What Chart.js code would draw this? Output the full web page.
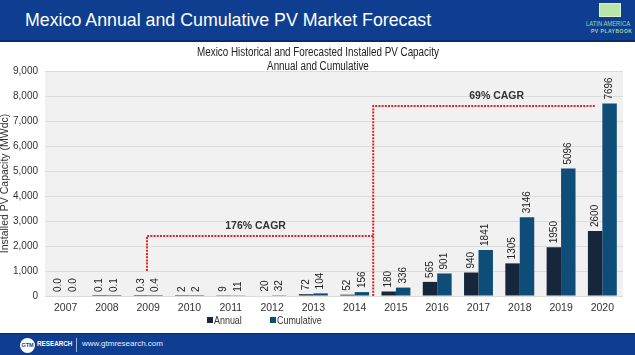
<!DOCTYPE html>
<html>
<head>
<meta charset="utf-8">
<script src="https://cdn.jsdelivr.net/npm/chart.js@4/dist/chart.umd.min.js"></script>
<style>
  html,body{margin:0;padding:0;background:#fff;}
  #wrap{position:relative;width:635px;height:355px;overflow:hidden;font-family:"Liberation Sans",Arial,sans-serif;}
  #chart{position:absolute;left:0;top:0;}
  #header{position:absolute;left:0;top:0;width:635px;height:40px;background:#0f3e91;border-bottom:2px solid #0a2c66;}
  #header .t{position:absolute;left:25px;top:10px;color:#fff;font-size:17.8px;white-space:nowrap;}
  #logo{position:absolute;left:586px;top:3px;width:50px;}
  #logo .book{width:22px;height:14px;margin:0 0 3px 13px;background:#b9e6a8;border:1px solid #d8f3cc;box-sizing:border-box;}
  #logo .a{color:#9fd8a0;font-size:7.5px;line-height:8px;white-space:nowrap;transform:scaleX(0.78);transform-origin:left;}
  #logo .b{color:#9fd8a0;font-size:5px;line-height:6px;letter-spacing:0.5px;font-weight:bold;white-space:nowrap;margin-left:5px;}
  #ctitle{position:absolute;left:0;width:635px;top:45px;text-align:center;font-size:12px;line-height:14px;color:#222;transform:scaleX(0.82);transform-origin:320px 0;}
  .leg{position:absolute;top:314px;font-size:10.5px;color:#333;white-space:nowrap;transform:scaleX(0.85);transform-origin:left;}
  .sq{position:absolute;top:317px;width:6px;height:6px;}
  #footer{position:absolute;left:0;top:333px;width:635px;height:22px;background:#0f3e91;border-top:1px solid #0a2c66;}
  #footer .c{position:absolute;left:20px;top:4px;width:15px;height:15px;border-radius:8px;background:#fff;color:#0f3e91;font-size:5.5px;font-weight:bold;line-height:15px;text-align:center;}
  #footer .r{position:absolute;left:37px;top:6px;color:#fff;font-size:7px;font-weight:bold;transform:scaleX(0.9);transform-origin:left;}
  #footer .sep{position:absolute;left:76px;top:4px;width:1px;height:14px;background:#9fb4dc;}
  #footer .u{position:absolute;left:82px;top:5px;color:#e6ecf8;font-size:8px;}
</style>
</head>
<body>
<div id="wrap">
  <canvas id="chart" width="635" height="355"></canvas>
  <div id="header"><div class="t">Mexico Annual and Cumulative PV Market Forecast</div>
    <div id="logo"><div class="book"></div><div class="a">LATIN AMERICA</div><div class="b">PV PLAYBOOK</div></div>
  </div>
  <div id="ctitle">Mexico Historical and Forecasted Installed PV Capacity<br>Annual and Cumulative</div>
  <div class="sq" style="left:207px;background:#16263b"></div><div class="leg" style="left:214px">Annual</div>
  <div class="sq" style="left:270px;background:#0e4d78"></div><div class="leg" style="left:277px">Cumulative</div>
  <div id="footer"><div class="c">GTM</div><div class="r">RESEARCH</div><div class="sep"></div><div class="u">www.gtmresearch.com</div></div>
</div>
<script>
const years = ['2007','2008','2009','2010','2011','2012','2013','2014','2015','2016','2017','2018','2019','2020'];
const annual = [0.0, 0.1, 0.3, 2, 9, 20, 72, 52, 180, 565, 940, 1305, 1950, 2600];
const cumulative = [0.0, 0.1, 0.4, 2, 11, 32, 104, 156, 336, 901, 1841, 3146, 5096, 7696];
const yTicks = [0, 1000, 2000, 3000, 4000, 5000, 6000, 7000, 8000, 9000];
// CAGR brackets: start category position, end category position, base value, bracket level
const cagrLabels = ['176% CAGR', '69% CAGR'];
const cagrStart = [1.97, 7.45];
const cagrEnd = [7.45, 12.83];
const cagrBase = [1000, 0];
const cagrLevel = [2400, 7600];
const cagrTextPos = [4.6, 10.44];

const fmt = v => v < 1 ? v.toFixed(1) : String(v);

const bgPlugin = {
  id: 'bg',
  beforeDraw(chart) {
    const {ctx, chartArea: a} = chart;
    ctx.save();
    ctx.fillStyle = '#f1f1f1';
    ctx.fillRect(a.left, a.top, a.right - a.left, a.bottom - a.top);
    ctx.restore();
  }
};

const labelPlugin = {
  id: 'vlabels',
  afterDatasetsDraw(chart) {
    const ctx = chart.ctx;
    ctx.save();
    ctx.font = '10px "Liberation Sans", Arial, sans-serif';
    ctx.fillStyle = '#222';
    ctx.textAlign = 'left';
    ctx.textBaseline = 'middle';
    chart.data.datasets.forEach((ds, di) => {
      chart.getDatasetMeta(di).data.forEach((bar, i) => {
        ctx.save();
        ctx.translate(bar.x, bar.y - 4);
        ctx.rotate(-Math.PI / 2);
        ctx.fillText(fmt(ds.data[i]), 0, 0);
        ctx.restore();
      });
    });
    ctx.restore();
  }
};

const cagrPlugin = {
  id: 'cagr',
  afterDatasetsDraw(chart) {
    const ctx = chart.ctx;
    const x = chart.scales.x, y = chart.scales.y;
    ctx.save();
    ctx.strokeStyle = '#e0242c';
    ctx.lineWidth = 2;
    ctx.setLineDash([2, 1.2]);
    for (let k = 0; k < cagrLabels.length; k++) {
      const x0 = x.getPixelForValue(cagrStart[k]);
      const x1 = x.getPixelForValue(cagrEnd[k]);
      const yb = y.getPixelForValue(cagrBase[k]);
      const yl = y.getPixelForValue(cagrLevel[k]);
      ctx.beginPath();
      ctx.moveTo(x0, yb);
      ctx.lineTo(x0, yl);
      ctx.lineTo(x1, yl);
      ctx.stroke();
      ctx.save();
      ctx.setLineDash([]);
      ctx.font = 'bold 10.5px "Liberation Sans", Arial, sans-serif';
      ctx.fillStyle = '#333';
      ctx.textAlign = 'center';
      ctx.textBaseline = 'middle';
      ctx.fillText(cagrLabels[k], x.getPixelForValue(cagrTextPos[k]), yl - 9.5);
      ctx.restore();
    }
    ctx.restore();
  }
};

new Chart(document.getElementById('chart'), {
  type: 'bar',
  data: {
    labels: years,
    datasets: [
      {label: 'Annual', data: annual, backgroundColor: '#16263b', categoryPercentage: 0.7, barPercentage: 1.0},
      {label: 'Cumulative', data: cumulative, backgroundColor: '#0e4d78', categoryPercentage: 0.7, barPercentage: 1.0}
    ]
  },
  options: {
    responsive: false,
    animation: false,
    layout: {padding: {left: 0, right: 12, top: 71, bottom: 0}},
    plugins: {legend: {display: false}, tooltip: {enabled: false}, title: {display: false}},
    scales: {
      x: {
        grid: {display: false},
        border: {display: false},
        ticks: {color: '#333', font: {family: '"Liberation Sans", Arial, sans-serif', size: 10.5}, padding: -2},
        afterFit(s) { s.height = 59; }
      },
      y: {
        min: 0, max: 9000,
        afterBuildTicks(s) { s.ticks = yTicks.map(v => ({value: v})); },
        grid: {color: '#dcdcdc', drawTicks: false},
        border: {display: false},
        ticks: {color: '#333', font: {family: '"Liberation Sans", Arial, sans-serif', size: 10}, padding: 7,
          callback: v => v.toLocaleString('en-US')},
        title: {display: true, text: 'Installed PV Capacity (MWdc)', color: '#333',
          font: {family: '"Liberation Sans", sans-serif', size: 10.5, lineHeight: 1.0}, padding: {top: 0, bottom: 0}},
        afterFit(s) { s.width = 45; }
      }
    }
  },
  plugins: [bgPlugin, labelPlugin, cagrPlugin]
});
</script>
</body>
</html>
